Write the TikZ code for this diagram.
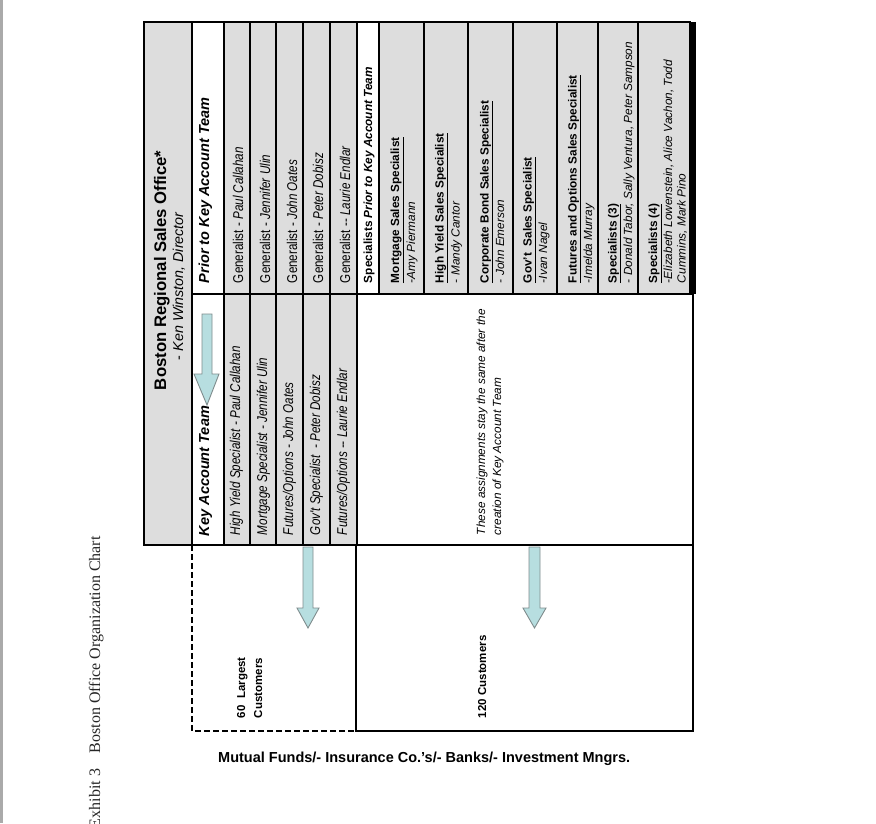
\documentclass[tikz,border=0pt]{standalone}
\usepackage{fontspec}
\setmainfont{Liberation Sans}
\newfontfamily\exfont{Liberation Serif}
\newfontfamily\narrowfont[FakeStretch=0.82]{Liberation Sans}
\definecolor{cellgray}{HTML}{DDDDDD}
\definecolor{arrowblue}{HTML}{B7DEE0}
\definecolor{arrowedge}{HTML}{7F8C8D}
\definecolor{leftbar}{HTML}{AAAAAA}
\begin{document}
\begin{tikzpicture}[x=1pt,y=-1pt,
  cell/.style={draw=black, line width=1.1pt},
  graycell/.style={cell, fill=cellgray},
  dashcell/.style={draw=black, line width=1.1pt, dash pattern=on 6pt off 3pt},
  blockarrow/.style={fill=arrowblue, draw=arrowedge, line width=0.9pt, line join=miter},
  vt/.style={rotate=90, anchor=base west, inner sep=0pt, outer sep=0pt},
  nr/.style={vt, font=\narrowfont\fontsize{14.2}{17}\selectfont},
  ni/.style={vt, font=\narrowfont\itshape\fontsize{14.2}{17}\selectfont},
  it/.style={vt, font=\itshape\fontsize{11.8}{14}\selectfont},
  bd/.style={vt, font=\bfseries\fontsize{11.8}{14}\selectfont},
  bdsm/.style={vt, font=\bfseries\fontsize{11.5}{14}\selectfont},
  bi/.style={vt, font=\bfseries\itshape\fontsize{14.5}{17}\selectfont},
  ex/.style={vt, font=\exfont\fontsize{16}{19}\selectfont, text=black!85}
]
\useasboundingbox (0,0) rectangle (876,823);
\fill[leftbar] (0,0) rectangle (2.5,823);

% column A
\draw[graycell] (144,22) rectangle (192,545);
% row 1
\draw[cell, fill=white] (192,22) rectangle (224,294);
\foreach \a/\b in {224/250,250/276,276/303,303/330,330/357}
  \draw[graycell] (\a,22) rectangle (\b,294);
\draw[cell, fill=white] (357,22) rectangle (379,294);
\foreach \a/\b in {379/424,424/468,468/513,513/557,557/598,598/638,638/690}
  \draw[graycell] (\a,22) rectangle (\b,294);
\fill[black] (690,22) rectangle (696,294);
% row 2
\draw[cell, fill=white] (192,294) rectangle (224,545);
\foreach \a/\b in {224/250,250/276,276/303,303/330,330/357}
  \draw[graycell] (\a,294) rectangle (\b,545);
\draw[cell] (357,294) rectangle (693,545);
% row 3
\draw[dashcell] (192,545) rectangle (356,731);
\draw[cell] (356,545) rectangle (693,731);

% arrows
\draw[blockarrow] (202,314) -- (212,314) -- (212,374) -- (219,374) -- (207,405) -- (194,374) -- (202,374) -- cycle;
\draw[blockarrow] (303,547) -- (313,547) -- (313,608) -- (319,608) -- (308,628) -- (297,608) -- (303,608) -- cycle;
\draw[blockarrow] (529,547) -- (540,547) -- (540,608) -- (546,608) -- (534.5,628) -- (523,608) -- (529,608) -- cycle;

% column A texts
\node[vt, font=\bfseries\fontsize{16.7}{20}\selectfont] (boston) at (166,390) {Boston Regional Sales Office*};
\node[vt, font=\fontsize{14.3}{17}\selectfont] (ken) at (183,360) {- \textit{Ken Winston, Director}};

% row 1 texts
\node[bi] (prior) at (209,283) {Prior to Key Account Team};
\node[nr] (g1) at (243,283) {Generalist - \textit{Paul Callahan}};
\node[nr] (g2) at (270,283) {Generalist - \textit{Jennifer Ulin}};
\node[nr] (g3) at (297,283) {Generalist - \textit{John Oates}};
\node[nr] (g4) at (323,283) {Generalist - \textit{Peter Dobisz}};
\node[nr] (g5) at (350,283) {Generalist -- \textit{Laurie Endlar}};

\node[vt, font=\bfseries\fontsize{11.8}{14}\selectfont] (spech) at (372,283) {Specialists \textit{Prior to Key Account Team}};
\node[bd] (s1a) at (399,283) {\underline{Mortgage Sales Specialist}};
\node[it] (s1b) at (415,283) {-Amy Piermann};
\node[bd] (s2a) at (443.5,283) {\underline{High Yield Sales Specialist}};
\node[it] (s2b) at (459.5,283) {- Mandy Cantor};
\node[bd] (s3a) at (488.5,283) {\underline{Corporate Bond Sales Specialist}};
\node[it] (s3b) at (504,283) {- John Emerson};
\node[bd] (s4a) at (531.5,283) {\underline{Gov't\ \ Sales Specialist}};
\node[it] (s4b) at (547,283) {-Ivan Nagel};
\node[bd] (s5a) at (576.5,283) {\underline{Futures and Options Sales Specialist}};
\node[it] (s5b) at (592,283) {-Imelda Murray};
\node[bd] (s6a) at (616.5,283) {\underline{Specialists (3)}};
\node[it] (s6b) at (632,283) {- Donald Tabor, Sally Ventura, Peter Sampson};
\node[bd] (s7a) at (657,283) {\underline{Specialists (4)}};
\node[it] (s7b) at (672,283) {-Elizabeth Lowenstein, Alice Vachon, Todd};
\node[it] (s7c) at (685.5,283) {Cummins, Mark Pino};

% row 2 texts
\node[bi] (key) at (209,536) {Key Account Team};
\node[ni] (k1) at (240,535) {High Yield Specialist - Paul Callahan};
\node[ni] (k2) at (267,535) {Mortgage Specialist - Jennifer Ulin};
\node[ni] (k3) at (293,535) {Futures/Options - John Oates};
\node[ni] (k4) at (320,535) {Gov't Specialist\ \ - Peter Dobisz};
\node[ni] (k5) at (347,535) {Futures/Options -- Laurie Endlar};
\node[it] (note1) at (485,535) {These assignments stay the same after the};
\node[it] (note2) at (501,535) {creation of Key Account Team};

% row 3 texts
\node[bdsm] (c60a) at (245,718) {60\ \ Largest};
\node[bdsm] (c60b) at (262,718) {Customers};
\node[bdsm] (c120) at (486,718) {120 Customers};

% caption
\node[anchor=base west, inner sep=0pt, font=\bfseries\fontsize{14.5}{17}\selectfont] (caption) at (218,762) {Mutual Funds/- Insurance Co.’s/- Banks/- Investment Mngrs.};

% exhibit title
\node[ex] (exh) at (100,828) {Exhibit 3};
\node[ex] (title) at (100,753) {Boston Office Organization Chart};
\end{tikzpicture}
\end{document}
